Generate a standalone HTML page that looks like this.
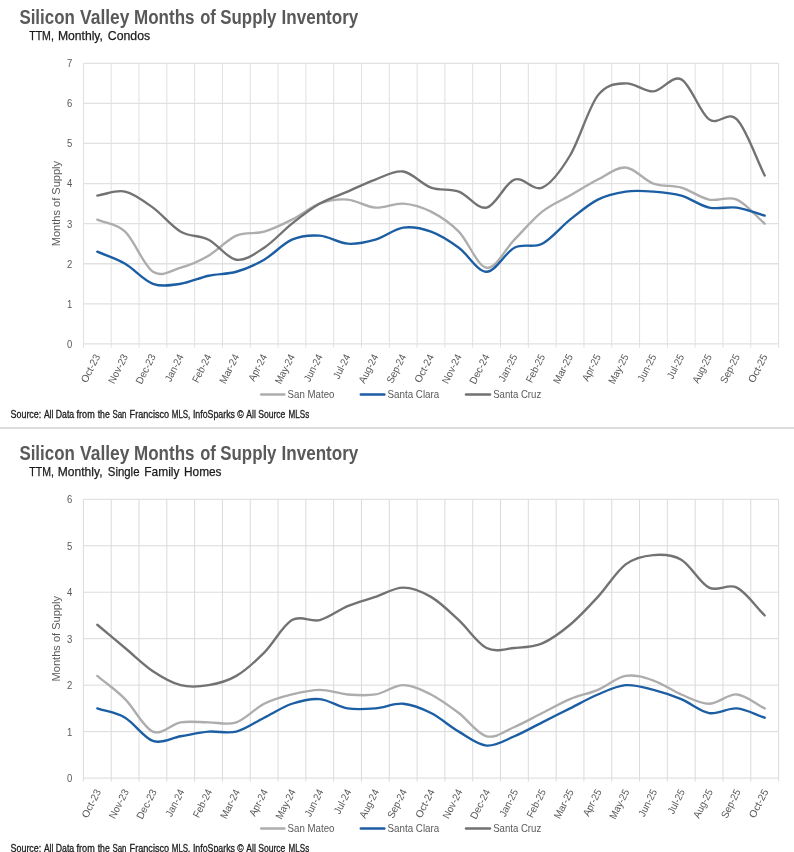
<!DOCTYPE html>
<html><head><meta charset="utf-8"><title>Silicon Valley Months of Supply Inventory</title>
<style>
html,body{margin:0;padding:0;background:#fff;}
body{width:794px;height:852px;overflow:hidden;font-family:"Liberation Sans",sans-serif;}
svg{display:block;will-change:transform;}
text{font-family:"Liberation Sans",sans-serif;}
.ttl{font-size:19.6px;font-weight:bold;fill:#595959;}
.sub{font-size:12.8px;fill:#1a1a1a;stroke:#1a1a1a;stroke-width:0.25px;}
.ax{font-size:10.8px;fill:#595959;}
.xl{font-size:10.3px;fill:#595959;}
.ayt{font-size:11.8px;fill:#595959;}
.lg{font-size:11px;fill:#595959;}
.src{font-size:10px;fill:#1c1c1c;stroke:#1c1c1c;stroke-width:0.3px;}
</style></head><body>
<svg width="794" height="852" viewBox="0 0 794 852">
<rect width="794" height="852" fill="#ffffff"/>
<text x="19.4" y="23.9" class="ttl" textLength="55.4" lengthAdjust="spacingAndGlyphs">Silicon</text>
<text x="80.1" y="23.9" class="ttl" textLength="49.4" lengthAdjust="spacingAndGlyphs">Valley</text>
<text x="134" y="23.9" class="ttl" textLength="60.5" lengthAdjust="spacingAndGlyphs">Months</text>
<text x="200.2" y="23.9" class="ttl" textLength="15.6" lengthAdjust="spacingAndGlyphs">of</text>
<text x="220.3" y="23.9" class="ttl" textLength="56.2" lengthAdjust="spacingAndGlyphs">Supply</text>
<text x="281.5" y="23.9" class="ttl" textLength="76.8" lengthAdjust="spacingAndGlyphs">Inventory</text>
<text x="29.2" y="40.4" class="sub" textLength="24.7" lengthAdjust="spacingAndGlyphs">TTM,</text>
<text x="57.9" y="40.4" class="sub" textLength="45" lengthAdjust="spacingAndGlyphs">Monthly,</text>
<text x="107.8" y="40.4" class="sub" textLength="42.3" lengthAdjust="spacingAndGlyphs">Condos</text>
<path d="M83.4,343.9H778.6M83.4,303.81H778.6M83.4,263.73H778.6M83.4,223.64H778.6M83.4,183.56H778.6M83.4,143.47H778.6M83.4,103.39H778.6M83.4,63.3H778.6" stroke="#e1e1e1" stroke-width="1.3" fill="none"/>
<path d="M83.4,63.3V347.7M111.21,63.3V347.7M139.02,63.3V347.7M166.82,63.3V347.7M194.63,63.3V347.7M222.44,63.3V347.7M250.25,63.3V347.7M278.06,63.3V347.7M305.86,63.3V347.7M333.67,63.3V347.7M361.48,63.3V347.7M389.29,63.3V347.7M417.1,63.3V347.7M444.9,63.3V347.7M472.71,63.3V347.7M500.52,63.3V347.7M528.33,63.3V347.7M556.14,63.3V347.7M583.94,63.3V347.7M611.75,63.3V347.7M639.56,63.3V347.7M667.37,63.3V347.7M695.18,63.3V347.7M722.98,63.3V347.7M750.79,63.3V347.7M778.6,63.3V347.7" stroke="#e1e1e1" stroke-width="1.05" fill="none"/>
<text x="67.1" y="347.8" class="ax" textLength="5.3" lengthAdjust="spacingAndGlyphs">0</text>
<text x="67.1" y="307.71" class="ax" textLength="5.3" lengthAdjust="spacingAndGlyphs">1</text>
<text x="67.1" y="267.63" class="ax" textLength="5.3" lengthAdjust="spacingAndGlyphs">2</text>
<text x="67.1" y="227.54" class="ax" textLength="5.3" lengthAdjust="spacingAndGlyphs">3</text>
<text x="67.1" y="187.46" class="ax" textLength="5.3" lengthAdjust="spacingAndGlyphs">4</text>
<text x="67.1" y="147.37" class="ax" textLength="5.3" lengthAdjust="spacingAndGlyphs">5</text>
<text x="67.1" y="107.29" class="ax" textLength="5.3" lengthAdjust="spacingAndGlyphs">6</text>
<text x="67.1" y="67.2" class="ax" textLength="5.3" lengthAdjust="spacingAndGlyphs">7</text>
<text transform="translate(59.7,246.3) rotate(-90)" class="ayt" textLength="85.4" lengthAdjust="spacingAndGlyphs">Months of Supply</text>
<text transform="translate(100.5,356.4) rotate(-63) scale(0.986,1)" class="xl" text-anchor="end">Oct-23</text>
<text transform="translate(128.31,356.4) rotate(-63) scale(0.949,1)" class="xl" text-anchor="end">Nov-23</text>
<text transform="translate(156.12,356.4) rotate(-63) scale(0.967,1)" class="xl" text-anchor="end">Dec-23</text>
<text transform="translate(183.93,356.4) rotate(-63) scale(0.930,1)" class="xl" text-anchor="end">Jan-24</text>
<text transform="translate(211.74,356.4) rotate(-63) scale(0.930,1)" class="xl" text-anchor="end">Feb-24</text>
<text transform="translate(239.54,356.4) rotate(-63) scale(0.967,1)" class="xl" text-anchor="end">Mar-24</text>
<text transform="translate(267.35,356.4) rotate(-63) scale(0.930,1)" class="xl" text-anchor="end">Apr-24</text>
<text transform="translate(295.16,356.4) rotate(-63) scale(0.930,1)" class="xl" text-anchor="end">May-24</text>
<text transform="translate(322.97,356.4) rotate(-63) scale(0.930,1)" class="xl" text-anchor="end">Jun-24</text>
<text transform="translate(350.78,356.4) rotate(-63) scale(0.930,1)" class="xl" text-anchor="end">Jul-24</text>
<text transform="translate(378.58,356.4) rotate(-63) scale(0.930,1)" class="xl" text-anchor="end">Aug-24</text>
<text transform="translate(406.39,356.4) rotate(-63) scale(0.930,1)" class="xl" text-anchor="end">Sep-24</text>
<text transform="translate(434.2,356.4) rotate(-63) scale(0.986,1)" class="xl" text-anchor="end">Oct-24</text>
<text transform="translate(462.01,356.4) rotate(-63) scale(0.949,1)" class="xl" text-anchor="end">Nov-24</text>
<text transform="translate(489.82,356.4) rotate(-63) scale(0.967,1)" class="xl" text-anchor="end">Dec-24</text>
<text transform="translate(517.62,356.4) rotate(-63) scale(0.930,1)" class="xl" text-anchor="end">Jan-25</text>
<text transform="translate(545.43,356.4) rotate(-63) scale(0.930,1)" class="xl" text-anchor="end">Feb-25</text>
<text transform="translate(573.24,356.4) rotate(-63) scale(0.967,1)" class="xl" text-anchor="end">Mar-25</text>
<text transform="translate(601.05,356.4) rotate(-63) scale(0.930,1)" class="xl" text-anchor="end">Apr-25</text>
<text transform="translate(628.86,356.4) rotate(-63) scale(0.930,1)" class="xl" text-anchor="end">May-25</text>
<text transform="translate(656.66,356.4) rotate(-63) scale(0.930,1)" class="xl" text-anchor="end">Jun-25</text>
<text transform="translate(684.47,356.4) rotate(-63) scale(0.930,1)" class="xl" text-anchor="end">Jul-25</text>
<text transform="translate(712.28,356.4) rotate(-63) scale(0.930,1)" class="xl" text-anchor="end">Aug-25</text>
<text transform="translate(740.09,356.4) rotate(-63) scale(0.930,1)" class="xl" text-anchor="end">Sep-25</text>
<text transform="translate(767.9,356.4) rotate(-63) scale(0.986,1)" class="xl" text-anchor="end">Oct-25</text>
<path d="M97.3,219.63C106.57,223.64 115.84,222.97 125.11,231.66C134.38,240.35 143.65,265.73 152.92,271.75C162.19,277.76 171.46,270.41 180.73,267.74C190,265.06 199.27,261.06 208.54,255.71C217.81,250.37 227.07,239.68 236.34,235.67C245.61,231.66 254.88,234.33 264.15,231.66C273.42,228.99 282.69,224.31 291.96,219.63C301.23,214.96 310.5,206.94 319.77,203.6C329.04,200.26 338.31,198.92 347.58,199.59C356.85,200.26 366.11,206.94 375.38,207.61C384.65,208.28 393.92,202.93 403.19,203.6C412.46,204.27 421.73,206.94 431,211.62C440.27,216.29 449.54,222.31 458.81,231.66C468.08,241.01 477.35,266.4 486.62,267.74C495.89,269.07 505.15,249.03 514.42,239.68C523.69,230.32 532.96,218.97 542.23,211.62C551.5,204.27 560.77,200.93 570.04,195.58C579.31,190.24 588.58,184.23 597.85,179.55C607.12,174.87 616.39,166.85 625.66,167.52C634.93,168.19 644.19,180.22 653.46,183.56C662.73,186.9 672,184.89 681.27,187.57C690.54,190.24 699.81,197.59 709.08,199.59C718.35,201.6 727.62,195.58 736.89,199.59C746.16,203.6 755.43,215.63 764.7,223.64" stroke="#adadad" stroke-width="2.35" fill="none" stroke-linecap="round" stroke-linejoin="round"/>
<path d="M97.3,251.7C106.57,255.71 115.84,258.38 125.11,263.73C134.38,269.07 143.65,280.43 152.92,283.77C162.19,287.11 171.46,285.11 180.73,283.77C190,282.44 199.27,277.76 208.54,275.75C217.81,273.75 227.07,274.42 236.34,271.75C245.61,269.07 254.88,265.06 264.15,259.72C273.42,254.38 282.69,243.69 291.96,239.68C301.23,235.67 310.5,235 319.77,235.67C329.04,236.34 338.31,243.02 347.58,243.69C356.85,244.35 366.11,242.35 375.38,239.68C384.65,237 393.92,228.99 403.19,227.65C412.46,226.32 421.73,228.32 431,231.66C440.27,235 449.54,241.01 458.81,247.69C468.08,254.38 477.35,271.75 486.62,271.75C495.89,271.75 505.15,252.37 514.42,247.69C523.69,243.02 532.96,248.36 542.23,243.69C551.5,239.01 560.77,226.98 570.04,219.63C579.31,212.29 588.58,204.27 597.85,199.59C607.12,194.91 616.39,192.91 625.66,191.57C634.93,190.24 644.19,190.91 653.46,191.57C662.73,192.24 672,192.91 681.27,195.58C690.54,198.26 699.81,205.6 709.08,207.61C718.35,209.61 727.62,206.27 736.89,207.61C746.16,208.94 755.43,212.95 764.7,215.63" stroke="#1c5ea4" stroke-width="2.35" fill="none" stroke-linecap="round" stroke-linejoin="round"/>
<path d="M97.3,195.58C106.57,194.25 115.84,189.57 125.11,191.57C134.38,193.58 143.65,200.93 152.92,207.61C162.19,214.29 171.46,226.32 180.73,231.66C190,237 199.27,235 208.54,239.68C217.81,244.35 227.07,258.38 236.34,259.72C245.61,261.06 254.88,253.71 264.15,247.69C273.42,241.68 282.69,230.99 291.96,223.64C301.23,216.29 310.5,208.94 319.77,203.6C329.04,198.26 338.31,195.58 347.58,191.57C356.85,187.57 366.11,182.89 375.38,179.55C384.65,176.21 393.92,170.2 403.19,171.53C412.46,172.87 421.73,184.23 431,187.57C440.27,190.91 449.54,188.23 458.81,191.57C468.08,194.91 477.35,209.61 486.62,207.61C495.89,205.6 505.15,182.89 514.42,179.55C523.69,176.21 532.96,191.57 542.23,187.57C551.5,183.56 560.77,170.86 570.04,155.5C579.31,140.13 588.58,107.39 597.85,95.37C607.12,83.34 616.39,84.01 625.66,83.34C634.93,82.67 644.19,92.03 653.46,91.36C662.73,90.69 672,74.66 681.27,79.33C690.54,84.01 699.81,112.74 709.08,119.42C718.35,126.1 727.62,110.07 736.89,119.42C746.16,128.77 755.43,156.83 764.7,175.54" stroke="#727272" stroke-width="2.35" fill="none" stroke-linecap="round" stroke-linejoin="round"/>
<path d="M261.2,394.5H284.4" stroke="#adadad" stroke-width="2.45" stroke-linecap="round"/>
<text x="287.6" y="398.3" class="lg" textLength="46.8" lengthAdjust="spacingAndGlyphs">San Mateo</text>
<path d="M360.8,394.5H384.4" stroke="#1c5ea4" stroke-width="2.45" stroke-linecap="round"/>
<text x="387.6" y="398.3" class="lg" textLength="51.6" lengthAdjust="spacingAndGlyphs">Santa Clara</text>
<path d="M466,394.5H490" stroke="#727272" stroke-width="2.45" stroke-linecap="round"/>
<text x="493.2" y="398.3" class="lg" textLength="48" lengthAdjust="spacingAndGlyphs">Santa Cruz</text>
<text x="10.5" y="417.9" class="src" textLength="30.8" lengthAdjust="spacingAndGlyphs">Source:</text>
<text x="43.9" y="417.9" class="src" textLength="9.5" lengthAdjust="spacingAndGlyphs">All</text>
<text x="55.8" y="417.9" class="src" textLength="18.4" lengthAdjust="spacingAndGlyphs">Data</text>
<text x="76.6" y="417.9" class="src" textLength="18.1" lengthAdjust="spacingAndGlyphs">from</text>
<text x="97.7" y="417.9" class="src" textLength="12.1" lengthAdjust="spacingAndGlyphs">the</text>
<text x="112.4" y="417.9" class="src" textLength="14.1" lengthAdjust="spacingAndGlyphs">San</text>
<text x="129.6" y="417.9" class="src" textLength="39.5" lengthAdjust="spacingAndGlyphs">Francisco</text>
<text x="171.8" y="417.9" class="src" textLength="18.5" lengthAdjust="spacingAndGlyphs">MLS,</text>
<text x="192.9" y="417.9" class="src" textLength="42.1" lengthAdjust="spacingAndGlyphs">InfoSparks</text>
<text x="237.3" y="417.9" class="src" textLength="6.4" lengthAdjust="spacingAndGlyphs">©</text>
<text x="246.3" y="417.9" class="src" textLength="9.5" lengthAdjust="spacingAndGlyphs">All</text>
<text x="258.2" y="417.9" class="src" textLength="27.2" lengthAdjust="spacingAndGlyphs">Source</text>
<text x="288.6" y="417.9" class="src" textLength="20.6" lengthAdjust="spacingAndGlyphs">MLSs</text>
<rect x="0" y="427" width="794" height="2" fill="#dcdcdc"/>
<text x="19.4" y="459.9" class="ttl" textLength="55.4" lengthAdjust="spacingAndGlyphs">Silicon</text>
<text x="80.1" y="459.9" class="ttl" textLength="49.4" lengthAdjust="spacingAndGlyphs">Valley</text>
<text x="134" y="459.9" class="ttl" textLength="60.5" lengthAdjust="spacingAndGlyphs">Months</text>
<text x="200.2" y="459.9" class="ttl" textLength="15.6" lengthAdjust="spacingAndGlyphs">of</text>
<text x="220.3" y="459.9" class="ttl" textLength="56.2" lengthAdjust="spacingAndGlyphs">Supply</text>
<text x="281.5" y="459.9" class="ttl" textLength="76.8" lengthAdjust="spacingAndGlyphs">Inventory</text>
<text x="29.3" y="476.4" class="sub" textLength="24.6" lengthAdjust="spacingAndGlyphs">TTM,</text>
<text x="57.8" y="476.4" class="sub" textLength="44.7" lengthAdjust="spacingAndGlyphs">Monthly,</text>
<text x="107.8" y="476.4" class="sub" textLength="31.7" lengthAdjust="spacingAndGlyphs">Single</text>
<text x="144.3" y="476.4" class="sub" textLength="35.2" lengthAdjust="spacingAndGlyphs">Family</text>
<text x="184" y="476.4" class="sub" textLength="37.5" lengthAdjust="spacingAndGlyphs">Homes</text>
<path d="M83.4,778.1H778.6M83.4,731.63H778.6M83.4,685.17H778.6M83.4,638.7H778.6M83.4,592.23H778.6M83.4,545.77H778.6M83.4,499.3H778.6" stroke="#dbdbdb" stroke-width="1.0" fill="none"/>
<path d="M83.4,499.3V781.5M111.21,499.3V781.5M139.02,499.3V781.5M166.82,499.3V781.5M194.63,499.3V781.5M222.44,499.3V781.5M250.25,499.3V781.5M278.06,499.3V781.5M305.86,499.3V781.5M333.67,499.3V781.5M361.48,499.3V781.5M389.29,499.3V781.5M417.1,499.3V781.5M444.9,499.3V781.5M472.71,499.3V781.5M500.52,499.3V781.5M528.33,499.3V781.5M556.14,499.3V781.5M583.94,499.3V781.5M611.75,499.3V781.5M639.56,499.3V781.5M667.37,499.3V781.5M695.18,499.3V781.5M722.98,499.3V781.5M750.79,499.3V781.5M778.6,499.3V781.5" stroke="#dbdbdb" stroke-width="1.0" fill="none"/>
<text x="67.1" y="782" class="ax" textLength="5.3" lengthAdjust="spacingAndGlyphs">0</text>
<text x="67.1" y="735.53" class="ax" textLength="5.3" lengthAdjust="spacingAndGlyphs">1</text>
<text x="67.1" y="689.07" class="ax" textLength="5.3" lengthAdjust="spacingAndGlyphs">2</text>
<text x="67.1" y="642.6" class="ax" textLength="5.3" lengthAdjust="spacingAndGlyphs">3</text>
<text x="67.1" y="596.13" class="ax" textLength="5.3" lengthAdjust="spacingAndGlyphs">4</text>
<text x="67.1" y="549.67" class="ax" textLength="5.3" lengthAdjust="spacingAndGlyphs">5</text>
<text x="67.1" y="503.2" class="ax" textLength="5.3" lengthAdjust="spacingAndGlyphs">6</text>
<text transform="translate(59.7,681.4) rotate(-90)" class="ayt" textLength="85.4" lengthAdjust="spacingAndGlyphs">Months of Supply</text>
<text transform="translate(101.3,791.5) rotate(-63) scale(0.986,1)" class="xl" text-anchor="end">Oct-23</text>
<text transform="translate(129.11,791.5) rotate(-63) scale(0.949,1)" class="xl" text-anchor="end">Nov-23</text>
<text transform="translate(156.92,791.5) rotate(-63) scale(0.967,1)" class="xl" text-anchor="end">Dec-23</text>
<text transform="translate(184.73,791.5) rotate(-63) scale(0.930,1)" class="xl" text-anchor="end">Jan-24</text>
<text transform="translate(212.54,791.5) rotate(-63) scale(0.930,1)" class="xl" text-anchor="end">Feb-24</text>
<text transform="translate(240.34,791.5) rotate(-63) scale(0.967,1)" class="xl" text-anchor="end">Mar-24</text>
<text transform="translate(268.15,791.5) rotate(-63) scale(0.930,1)" class="xl" text-anchor="end">Apr-24</text>
<text transform="translate(295.96,791.5) rotate(-63) scale(0.930,1)" class="xl" text-anchor="end">May-24</text>
<text transform="translate(323.77,791.5) rotate(-63) scale(0.930,1)" class="xl" text-anchor="end">Jun-24</text>
<text transform="translate(351.58,791.5) rotate(-63) scale(0.930,1)" class="xl" text-anchor="end">Jul-24</text>
<text transform="translate(379.38,791.5) rotate(-63) scale(0.930,1)" class="xl" text-anchor="end">Aug-24</text>
<text transform="translate(407.19,791.5) rotate(-63) scale(0.930,1)" class="xl" text-anchor="end">Sep-24</text>
<text transform="translate(435,791.5) rotate(-63) scale(0.986,1)" class="xl" text-anchor="end">Oct-24</text>
<text transform="translate(462.81,791.5) rotate(-63) scale(0.949,1)" class="xl" text-anchor="end">Nov-24</text>
<text transform="translate(490.62,791.5) rotate(-63) scale(0.967,1)" class="xl" text-anchor="end">Dec-24</text>
<text transform="translate(518.42,791.5) rotate(-63) scale(0.930,1)" class="xl" text-anchor="end">Jan-25</text>
<text transform="translate(546.23,791.5) rotate(-63) scale(0.930,1)" class="xl" text-anchor="end">Feb-25</text>
<text transform="translate(574.04,791.5) rotate(-63) scale(0.967,1)" class="xl" text-anchor="end">Mar-25</text>
<text transform="translate(601.85,791.5) rotate(-63) scale(0.930,1)" class="xl" text-anchor="end">Apr-25</text>
<text transform="translate(629.66,791.5) rotate(-63) scale(0.930,1)" class="xl" text-anchor="end">May-25</text>
<text transform="translate(657.46,791.5) rotate(-63) scale(0.930,1)" class="xl" text-anchor="end">Jun-25</text>
<text transform="translate(685.27,791.5) rotate(-63) scale(0.930,1)" class="xl" text-anchor="end">Jul-25</text>
<text transform="translate(713.08,791.5) rotate(-63) scale(0.930,1)" class="xl" text-anchor="end">Aug-25</text>
<text transform="translate(740.89,791.5) rotate(-63) scale(0.930,1)" class="xl" text-anchor="end">Sep-25</text>
<text transform="translate(768.7,791.5) rotate(-63) scale(0.986,1)" class="xl" text-anchor="end">Oct-25</text>
<path d="M97.3,675.87C106.57,683.62 115.84,689.81 125.11,699.11C134.38,708.4 143.65,727.76 152.92,731.63C162.19,735.51 171.46,723.89 180.73,722.34C190,720.79 199.27,722.34 208.54,722.34C217.81,722.34 227.07,725.44 236.34,722.34C245.61,719.24 254.88,708.4 264.15,703.75C273.42,699.11 282.69,696.78 291.96,694.46C301.23,692.14 310.5,689.81 319.77,689.81C329.04,689.81 338.31,693.69 347.58,694.46C356.85,695.23 366.11,696.01 375.38,694.46C384.65,692.91 393.92,685.17 403.19,685.17C412.46,685.17 421.73,689.81 431,694.46C440.27,699.11 449.54,706.08 458.81,713.05C468.08,720.02 477.35,733.96 486.62,736.28C495.89,738.6 505.15,730.86 514.42,726.99C523.69,723.11 532.96,717.69 542.23,713.05C551.5,708.4 560.77,702.98 570.04,699.11C579.31,695.23 588.58,693.69 597.85,689.81C607.12,685.94 616.39,677.42 625.66,675.87C634.93,674.32 644.19,677.42 653.46,680.52C662.73,683.62 672,690.59 681.27,694.46C690.54,698.33 699.81,703.75 709.08,703.75C718.35,703.75 727.62,693.69 736.89,694.46C746.16,695.23 755.43,703.75 764.7,708.4" stroke="#adadad" stroke-width="2.35" fill="none" stroke-linecap="round" stroke-linejoin="round"/>
<path d="M97.3,708.4C106.57,711.5 115.84,712.27 125.11,717.69C134.38,723.11 143.65,737.83 152.92,740.93C162.19,744.02 171.46,737.83 180.73,736.28C190,734.73 199.27,732.41 208.54,731.63C217.81,730.86 227.07,733.96 236.34,731.63C245.61,729.31 254.88,722.34 264.15,717.69C273.42,713.05 282.69,706.85 291.96,703.75C301.23,700.66 310.5,698.33 319.77,699.11C329.04,699.88 338.31,706.85 347.58,708.4C356.85,709.95 366.11,709.17 375.38,708.4C384.65,707.63 393.92,702.98 403.19,703.75C412.46,704.53 421.73,708.4 431,713.05C440.27,717.69 449.54,726.21 458.81,731.63C468.08,737.05 477.35,744.8 486.62,745.57C495.89,746.35 505.15,740.15 514.42,736.28C523.69,732.41 532.96,726.99 542.23,722.34C551.5,717.69 560.77,713.05 570.04,708.4C579.31,703.75 588.58,698.33 597.85,694.46C607.12,690.59 616.39,685.94 625.66,685.17C634.93,684.39 644.19,687.49 653.46,689.81C662.73,692.14 672,695.23 681.27,699.11C690.54,702.98 699.81,711.5 709.08,713.05C718.35,714.6 727.62,707.63 736.89,708.4C746.16,709.17 755.43,714.6 764.7,717.69" stroke="#1c5ea4" stroke-width="2.35" fill="none" stroke-linecap="round" stroke-linejoin="round"/>
<path d="M97.3,624.76C106.57,632.5 115.84,640.25 125.11,647.99C134.38,655.74 143.65,665.03 152.92,671.23C162.19,677.42 171.46,682.84 180.73,685.17C190,687.49 199.27,686.72 208.54,685.17C217.81,683.62 227.07,681.29 236.34,675.87C245.61,670.45 254.88,661.93 264.15,652.64C273.42,643.35 282.69,625.53 291.96,620.11C301.23,614.69 310.5,622.44 319.77,620.11C329.04,617.79 338.31,610.05 347.58,606.17C356.85,602.3 366.11,599.98 375.38,596.88C384.65,593.78 393.92,587.59 403.19,587.59C412.46,587.59 421.73,591.46 431,596.88C440.27,602.3 449.54,611.59 458.81,620.11C468.08,628.63 477.35,643.35 486.62,647.99C495.89,652.64 505.15,648.77 514.42,647.99C523.69,647.22 532.96,647.22 542.23,643.35C551.5,639.47 560.77,632.5 570.04,624.76C579.31,617.02 588.58,606.95 597.85,596.88C607.12,586.81 616.39,571.32 625.66,564.35C634.93,557.38 644.19,555.83 653.46,555.06C662.73,554.29 672,554.29 681.27,559.71C690.54,565.13 699.81,582.94 709.08,587.59C718.35,592.23 727.62,582.94 736.89,587.59C746.16,592.23 755.43,606.17 764.7,615.47" stroke="#727272" stroke-width="2.35" fill="none" stroke-linecap="round" stroke-linejoin="round"/>
<path d="M261.2,828.5H284.4" stroke="#adadad" stroke-width="2.45" stroke-linecap="round"/>
<text x="287.6" y="832.3" class="lg" textLength="46.8" lengthAdjust="spacingAndGlyphs">San Mateo</text>
<path d="M360.8,828.5H384.4" stroke="#1c5ea4" stroke-width="2.45" stroke-linecap="round"/>
<text x="387.6" y="832.3" class="lg" textLength="51.6" lengthAdjust="spacingAndGlyphs">Santa Clara</text>
<path d="M466,828.5H490" stroke="#727272" stroke-width="2.45" stroke-linecap="round"/>
<text x="493.2" y="832.3" class="lg" textLength="48" lengthAdjust="spacingAndGlyphs">Santa Cruz</text>
<text x="10.5" y="851.5" class="src" textLength="30.8" lengthAdjust="spacingAndGlyphs">Source:</text>
<text x="43.9" y="851.5" class="src" textLength="9.5" lengthAdjust="spacingAndGlyphs">All</text>
<text x="55.8" y="851.5" class="src" textLength="18.4" lengthAdjust="spacingAndGlyphs">Data</text>
<text x="76.6" y="851.5" class="src" textLength="18.1" lengthAdjust="spacingAndGlyphs">from</text>
<text x="97.7" y="851.5" class="src" textLength="12.1" lengthAdjust="spacingAndGlyphs">the</text>
<text x="112.4" y="851.5" class="src" textLength="14.1" lengthAdjust="spacingAndGlyphs">San</text>
<text x="129.6" y="851.5" class="src" textLength="39.5" lengthAdjust="spacingAndGlyphs">Francisco</text>
<text x="171.8" y="851.5" class="src" textLength="18.5" lengthAdjust="spacingAndGlyphs">MLS,</text>
<text x="192.9" y="851.5" class="src" textLength="42.1" lengthAdjust="spacingAndGlyphs">InfoSparks</text>
<text x="237.3" y="851.5" class="src" textLength="6.4" lengthAdjust="spacingAndGlyphs">©</text>
<text x="246.3" y="851.5" class="src" textLength="9.5" lengthAdjust="spacingAndGlyphs">All</text>
<text x="258.2" y="851.5" class="src" textLength="27.2" lengthAdjust="spacingAndGlyphs">Source</text>
<text x="288.6" y="851.5" class="src" textLength="20.6" lengthAdjust="spacingAndGlyphs">MLSs</text>
</svg>
</body></html>
